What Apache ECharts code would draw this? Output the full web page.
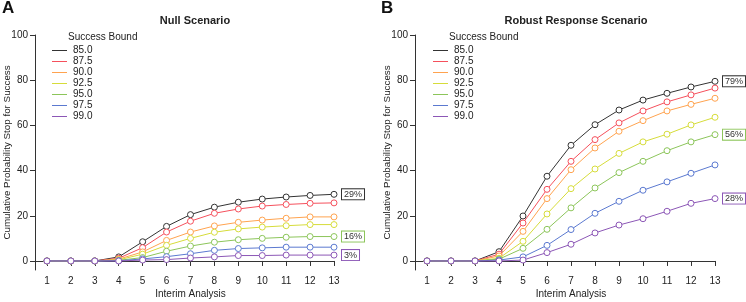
<!DOCTYPE html>
<html>
<head>
<meta charset="utf-8">
<script src="https://cdn.jsdelivr.net/npm/echarts@6/dist/echarts.min.js"></script>
<style>
  html, body { margin: 0; padding: 0; background: #fff; }
  #chart { width: 746px; height: 302px; }
</style>
</head>
<body>
<div id="chart"></div>
<script>
const chart = echarts.init(document.getElementById("chart"));

const interim = [1, 2, 3, 4, 5, 6, 7, 8, 9, 10, 11, 12, 13];
const yTicks = [0, 20, 40, 60, 80, 100];
const bounds = ["85.0", "87.5", "90.0", "92.5", "95.0", "97.5", "99.0"];
const colors = ["#333333", "#f5505c", "#ffa34f", "#d6dc3a", "#8cc55a", "#5b79d0", "#8c57b6"];

// Null scenario, one row per success bound
const nullValues = [
	[0, 0, 0, 1.8, 8.5, 15.3, 20.5, 23.8, 26.0, 27.4, 28.3, 29.0, 29.5],
	[0, 0, 0, 1.2, 5.9, 12.8, 17.6, 21.1, 23.0, 24.3, 25.0, 25.5, 25.7],
	[0, 0, 0, 0.8, 4.0, 9.1, 12.8, 15.5, 17.1, 18.1, 18.9, 19.5, 19.5],
	[0, 0, 0, 0.5, 3.0, 6.9, 10.0, 12.7, 14.2, 15.0, 15.6, 16.1, 16.1],
	[0, 0, 0, 0.3, 1.5, 4.3, 6.6, 8.3, 9.4, 10.0, 10.5, 10.8, 10.8],
	[0, 0, 0, 0.1, 0.9, 1.9, 3.2, 4.7, 5.5, 5.8, 6.1, 6.1, 6.1],
	[0, 0, 0, 0.0, 0.4, 0.6, 1.3, 1.8, 2.4, 2.4, 2.6, 2.6, 2.6]
];
const nullLabels = ["29%", "", "", "", "16%", "", "3%"];

// Robust response scenario
const robustValues = [
	[0, 0, 0, 4.1, 19.9, 37.5, 51.2, 60.3, 66.8, 71.2, 74.2, 77.0, 79.5],
	[0, 0, 0, 3.0, 16.8, 31.7, 44.1, 53.7, 61.1, 66.4, 70.4, 73.5, 76.5],
	[0, 0, 0, 2.2, 13.1, 27.6, 40.4, 50.0, 57.4, 62.1, 66.4, 69.3, 72.0],
	[0, 0, 0, 1.2, 8.7, 20.8, 32.0, 40.7, 47.6, 52.7, 56.1, 60.2, 63.6],
	[0, 0, 0, 0.8, 5.6, 14.0, 23.5, 32.3, 39.1, 44.1, 48.8, 52.7, 55.9],
	[0, 0, 0, 0.4, 1.8, 6.9, 13.9, 21.1, 26.4, 31.3, 35.0, 38.8, 42.5],
	[0, 0, 0, 0.0, 0.4, 3.7, 7.4, 12.4, 15.9, 18.7, 22.0, 25.5, 27.6]
];
const robustLabels = ["79%", "", "", "", "56%", "", "28%"];

const font = "Liberation Sans, Arial, Helvetica, sans-serif";
const ink = "#222";

function xAxis(gridIndex) {
	return {
		type: "value",
		gridIndex: gridIndex,
		min: 0.5,
		max: 13,
		name: "Interim Analysis",
		nameLocation: "middle",
		nameGap: 19,
		nameMoveOverlap: false,
		nameTextStyle: { fontFamily: font, fontSize: 10, color: ink, padding: [0, 0, 0, 12] },
		axisLine: { lineStyle: { color: "#333", width: 1 } },
		axisTick: { customValues: interim, length: 5, lineStyle: { color: "#333" } },
		axisLabel: { customValues: interim, margin: 6, fontFamily: font, fontSize: 10, color: ink },
		splitLine: { show: false }
	};
}

function yAxis(gridIndex, gap) {
	return {
		type: "value",
		gridIndex: gridIndex,
		min: -4,
		max: 100,
		name: "Cumulative Probability Stop for Success",
		nameLocation: "middle",
		nameGap: gap,
		nameMoveOverlap: false,
		nameTextStyle: { fontFamily: font, fontSize: 9.8, color: ink },
		axisLine: { show: true, lineStyle: { color: "#333", width: 1 } },
		axisTick: { show: true, customValues: yTicks, length: 5, lineStyle: { color: "#333" } },
		axisLabel: { customValues: yTicks, margin: 7, fontFamily: font, fontSize: 10, color: ink },
		splitLine: { show: false }
	};
}

function makeSeries(values, labels, idx) {
	return values.map((row, i) => ({
		name: bounds[i],
		type: "line",
		xAxisIndex: idx,
		yAxisIndex: idx,
		data: row.map((v, j) => [interim[j], v]),
		symbol: "circle",
		symbolSize: 6,
		lineStyle: { width: 1, color: colors[i] },
		itemStyle: { color: "#fff", borderColor: colors[i], borderWidth: 1 },
		emphasis: { disabled: true },
		z: 2 + i,
		endLabel: {
			show: labels[i] !== "",
			formatter: labels[i],
			distance: 8,
			fontFamily: font,
			fontSize: 9,
			color: "#333",
			backgroundColor: "#fff",
			borderColor: colors[i],
			borderWidth: 1,
			padding: [1, 2, 0, 2]
		},
		animation: false
	}));
}

function legend(left) {
	return {
		orient: "vertical",
		left: left,
		top: 40,
		itemWidth: 15,
		itemHeight: 1,
		itemGap: 0,
		icon: "rect",
		data: bounds.map((b, i) => ({ name: b, itemStyle: { color: colors[i], borderWidth: 0 } })),
		textStyle: { fontFamily: font, fontSize: 10, color: ink, lineHeight: 11, padding: [0, 0, 0, 1] },
		selectedMode: false
	};
}

const option = {
	animation: false,
	title: [
		{ text: "Null Scenario", left: 190, top: 10, textAlign: "center",
			textStyle: { fontFamily: font, fontSize: 11, fontWeight: "bold", color: ink } },
		{ text: "Robust Response Scenario", left: 571, top: 10, textAlign: "center",
			textStyle: { fontFamily: font, fontSize: 11, fontWeight: "bold", color: ink } }
	],
	graphic: [
		{ type: "text", left: 2, top: 0, style: { text: "A", font: "bold 17px " + font, fill: "#111" } },
		{ type: "text", left: 381, top: 0, style: { text: "B", font: "bold 17px " + font, fill: "#111" } },
		{ type: "text", left: 68, top: 32, style: { text: "Success Bound", font: "10px " + font, fill: ink } },
		{ type: "text", left: 449, top: 32, style: { text: "Success Bound", font: "10px " + font, fill: ink } }
	],
	legend: [legend(47), legend(428)],
	grid: [
		{ left: 35, top: 35, width: 299, height: 235, outerBoundsMode: "none" },
		{ left: 415, top: 35, width: 300, height: 235, outerBoundsMode: "none" }
	],
	xAxis: [xAxis(0), xAxis(1)],
	yAxis: [yAxis(0, 23), yAxis(1, 23)],
	series: [
		...makeSeries(nullValues, nullLabels, 0),
		...makeSeries(robustValues, robustLabels, 1)
	]
};

chart.setOption(option);
window.onresize = chart.resize;
</script>
</body>
</html>
